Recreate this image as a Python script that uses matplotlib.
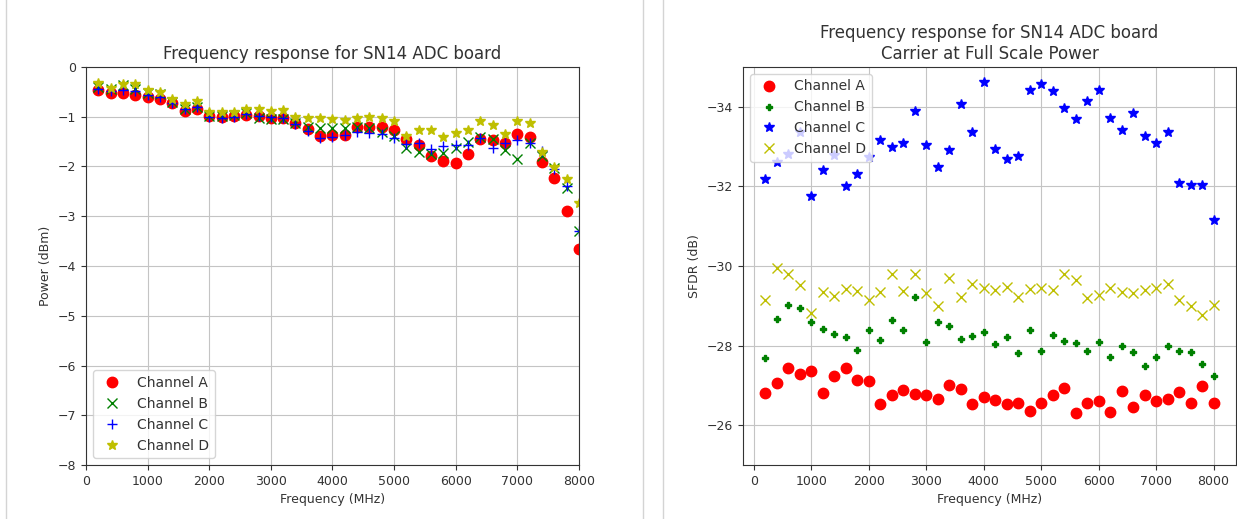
import matplotlib
matplotlib.use('Agg')
import matplotlib.pyplot as plt
from matplotlib.lines import Line2D

# Frecuencias medidas (MHz)
freq = [200, 400, 600, 800, 1000, 1200, 1400, 1600, 1800, 2000,
        2200, 2400, 2600, 2800, 3000, 3200, 3400, 3600, 3800, 4000,
        4200, 4400, 4600, 4800, 5000, 5200, 5400, 5600, 5800, 6000,
        6200, 6400, 6600, 6800, 7000, 7200, 7400, 7600, 7800, 8000]

channels = ['Channel A', 'Channel B', 'Channel C', 'Channel D']

# Potencia (dBm) por canal
power_a = [-0.46, -0.52, -0.52, -0.56, -0.60, -0.64, -0.73, -0.88, -0.85, -0.98,
           -1.00, -0.98, -0.97, -0.99, -1.02, -1.03, -1.12, -1.24, -1.38, -1.37,
           -1.36, -1.20, -1.20, -1.20, -1.26, -1.45, -1.57, -1.78, -1.89, -1.94,
           -1.75, -1.44, -1.47, -1.53, -1.35, -1.40, -1.92, -2.24, -2.89, -3.65]
power_b = [-0.40, -0.45, -0.37, -0.45, -0.52, -0.55, -0.70, -0.85, -0.80, -0.98,
           -0.98, -0.97, -0.93, -1.02, -1.05, -1.05, -1.12, -1.20, -1.23, -1.22,
           -1.22, -1.21, -1.22, -1.30, -1.38, -1.63, -1.70, -1.75, -1.73, -1.62,
           -1.50, -1.40, -1.45, -1.67, -1.84, -1.53, -1.79, -2.04, -2.44, -3.30]
power_c = [-0.45, -0.48, -0.47, -0.48, -0.57, -0.60, -0.72, -0.85, -0.80, -1.00,
           -1.02, -1.00, -0.95, -0.99, -1.00, -1.03, -1.15, -1.29, -1.43, -1.41,
           -1.36, -1.30, -1.33, -1.35, -1.42, -1.55, -1.53, -1.65, -1.59, -1.56,
           -1.57, -1.42, -1.62, -1.53, -1.47, -1.53, -1.69, -2.06, -2.40, -3.30]
power_d = [-0.32, -0.42, -0.35, -0.35, -0.47, -0.50, -0.64, -0.75, -0.68, -0.90,
           -0.90, -0.90, -0.85, -0.85, -0.88, -0.87, -1.00, -1.03, -1.03, -1.05,
           -1.06, -1.03, -1.01, -1.03, -1.08, -1.39, -1.27, -1.27, -1.40, -1.33,
           -1.27, -1.09, -1.17, -1.35, -1.09, -1.12, -1.71, -2.02, -2.26, -2.74]

# SFDR (dB) por canal
sfdr_a = [-26.82, -27.07, -27.43, -27.28, -27.37, -26.82, -27.23, -27.43, -27.13, -27.11,
          -26.54, -26.75, -26.89, -26.78, -26.75, -26.67, -27.02, -26.92, -26.54, -26.71,
          -26.64, -26.54, -26.56, -26.35, -26.56, -26.77, -26.94, -26.30, -26.56, -26.60,
          -26.33, -26.85, -26.47, -26.77, -26.60, -26.67, -26.84, -26.56, -26.99, -26.56]
sfdr_b = [-27.70, -28.68, -29.01, -28.94, -28.59, -28.42, -28.30, -28.21, -27.89, -28.38,
          -28.13, -28.65, -28.40, -29.22, -28.10, -28.59, -28.48, -28.17, -28.25, -28.33,
          -28.04, -28.21, -27.81, -28.38, -27.87, -28.27, -28.12, -28.06, -27.87, -28.08,
          -27.72, -27.99, -27.85, -27.49, -27.72, -27.99, -27.87, -27.85, -27.53, -27.23]
sfdr_c = [-32.18, -32.62, -32.81, -33.37, -31.75, -32.41, -32.78, -32.00, -32.32, -32.73,
          -33.16, -32.98, -33.10, -33.90, -33.05, -32.49, -32.91, -34.07, -33.36, -34.62,
          -32.95, -32.68, -32.77, -34.42, -34.56, -34.40, -33.98, -33.70, -34.15, -34.43,
          -33.71, -33.41, -33.84, -33.27, -33.08, -33.36, -32.09, -32.03, -32.03, -31.16]
sfdr_d = [-29.14, -29.94, -29.81, -29.52, -28.82, -29.34, -29.24, -29.41, -29.38, -29.14,
          -29.35, -29.81, -29.38, -29.81, -29.31, -28.99, -29.69, -29.22, -29.54, -29.45,
          -29.39, -29.47, -29.22, -29.43, -29.45, -29.39, -29.81, -29.64, -29.20, -29.27,
          -29.45, -29.35, -29.31, -29.39, -29.45, -29.55, -29.14, -29.00, -28.76, -29.01]

plt.rcParams['font.size'] = 9
plt.rcParams['text.color'] = '#333333'
plt.rcParams['axes.labelcolor'] = '#333333'
plt.rcParams['xtick.color'] = '#333333'
plt.rcParams['ytick.color'] = '#333333'
plt.rcParams['axes.edgecolor'] = '#333333'
plt.rcParams['grid.color'] = '#c4c4c4'

fig = plt.figure(figsize=(12.37, 5.19), dpi=100)

# Lineas de separacion entre celdas
for xs in [6, 643, 663]:
    fig.add_artist(Line2D([xs / 1237, xs / 1237], [0, 1], color='#d4d4d4', lw=1))

# Grafico de potencia
ax1 = fig.add_axes([0.0695, 0.104, 0.3985, 0.767])
ax1.plot(freq, power_a, 'ro', ms=7.5, label=channels[0])
ax1.plot(freq, power_b, 'gx', ms=6.5, label=channels[1])
ax1.plot(freq, power_c, 'b+', ms=7, label=channels[2])
ax1.plot(freq, power_d, 'y*', ms=7.5, label=channels[3])
ax1.set_xlim(0, 8000)
ax1.set_ylim(-8, 0)
ax1.set_xticks(range(0, 8001, 1000))
ax1.set_yticks(range(-8, 1))
ax1.grid(True)
ax1.set_title('Frequency response for SN14 ADC board', fontsize=12)
ax1.set_xlabel('Frequency (MHz)')
ax1.set_ylabel('Power (dBm)')
ax1.legend(loc='lower left', fontsize=10)

# Grafico de SFDR
ax2 = fig.add_axes([0.6006, 0.104, 0.3986, 0.767])
ax2.plot(freq, sfdr_a, 'ro', ms=7.5, label=channels[0])
ax2.plot(freq, sfdr_b, 'gP', ms=5, label=channels[1])
ax2.plot(freq, sfdr_c, 'b*', ms=7.5, label=channels[2])
ax2.plot(freq, sfdr_d, 'yx', ms=6.5, label=channels[3])
ax2.set_ylim(-25, -35)
ax2.set_yticks([-34, -32, -30, -28, -26])
ax2.set_xticks(range(0, 8001, 1000))
ax2.grid(True)
ax2.set_title('Frequency response for SN14 ADC board\nCarrier at Full Scale Power', fontsize=12)
ax2.set_xlabel('Frequency (MHz)')
ax2.set_ylabel('SFDR (dB)')
ax2.legend(loc='upper left', fontsize=10)

plt.savefig('out.png', dpi=100)
